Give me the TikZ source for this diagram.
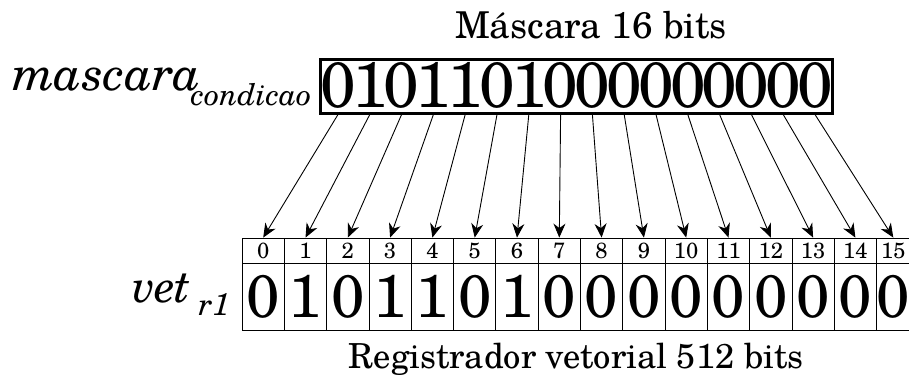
\documentclass[tikz,border=0pt]{standalone}
\usepackage{fontspec}
\setmainfont{TeX Gyre Schola}
\usepackage{tikz}
\usetikzlibrary{arrows.meta}

\begin{document}
\begin{tikzpicture}[x=1pt,y=-1pt,
  maskbox/.style={draw, line width=3pt, minimum width=512pt, minimum height=54pt, inner sep=0pt},
  maskbit/.style={inner sep=0pt, font=\fontsize{64}{64}\selectfont},
  idxcell/.style={draw, line width=0.8pt, minimum width=42.3pt, minimum height=25pt,
       inner sep=0pt, font=\fontsize{22}{22}\selectfont},
  bitcell/.style={draw, line width=0.8pt, minimum width=42.3pt, minimum height=67pt,
       inner sep=0pt, font=\fontsize{60}{60}\selectfont},
  caption/.style={inner sep=0pt, font=\fontsize{34.5}{34.5}\selectfont},
  varname/.style={inner sep=0pt, font=\fontsize{48}{48}\selectfont\itshape},
  bitarrow/.style={line width=0.9pt, -{Stealth[length=14pt,width=12pt,inset=4.5pt]}}]
\clip (0,0) rectangle (909,376);

% titles
\draw (591,38) node[caption, anchor=base, font=\fontsize{37}{37}\selectfont] (title) {Máscara 16 bits};
\draw (576,368) node[caption, anchor=base] (reglabel) {Registrador vetorial 512 bits};

% mask word
\draw (12,90) node[varname, anchor=base west] (maskname)
  {mascara\kern-10pt\raisebox{-15pt}{\fontsize{30}{30}\selectfont condicao}};
\draw (576,86) node[maskbox] (mask) {};
\draw (338.0,85) node[maskbit] (m0) {0};
\draw (369.8,85) node[maskbit] (m1) {1};
\draw (401.6,85) node[maskbit] (m2) {0};
\draw (433.4,85) node[maskbit] (m3) {1};
\draw (465.2,85) node[maskbit] (m4) {1};
\draw (497.0,85) node[maskbit] (m5) {0};
\draw (528.8,85) node[maskbit] (m6) {1};
\draw (560.6,85) node[maskbit] (m7) {0};
\draw (592.4,85) node[maskbit] (m8) {0};
\draw (624.2,85) node[maskbit] (m9) {0};
\draw (656.0,85) node[maskbit] (m10) {0};
\draw (687.8,85) node[maskbit] (m11) {0};
\draw (719.6,85) node[maskbit] (m12) {0};
\draw (751.4,85) node[maskbit] (m13) {0};
\draw (783.2,85) node[maskbit] (m14) {0};
\draw (815.0,85) node[maskbit] (m15) {0};

% vector register
\draw (132,302) node[varname, anchor=base west, font=\fontsize{46}{46}\selectfont\itshape] (vetname)
  {vet\,\raisebox{-13pt}{\fontsize{31}{31}\selectfont r1}};

\draw (263.2,250.5) node[idxcell] (i0) {0};
\draw (305.5,250.5) node[idxcell] (i1) {1};
\draw (347.8,250.5) node[idxcell] (i2) {2};
\draw (390.1,250.5) node[idxcell] (i3) {3};
\draw (432.4,250.5) node[idxcell] (i4) {4};
\draw (474.7,250.5) node[idxcell] (i5) {5};
\draw (517.0,250.5) node[idxcell] (i6) {6};
\draw (559.3,250.5) node[idxcell] (i7) {7};
\draw (601.6,250.5) node[idxcell] (i8) {8};
\draw (643.9,250.5) node[idxcell] (i9) {9};
\draw (686.2,250.5) node[idxcell] (i10) {10};
\draw (728.5,250.5) node[idxcell] (i11) {11};
\draw (770.8,250.5) node[idxcell] (i12) {12};
\draw (813.1,250.5) node[idxcell] (i13) {13};
\draw (855.4,250.5) node[idxcell] (i14) {14};
\draw (893.3,250.5) node[idxcell, minimum width=34pt] (i15) {15};

\draw (263.2,296.5) node[bitcell] (b0) {0};
\draw (305.5,296.5) node[bitcell] (b1) {1};
\draw (347.8,296.5) node[bitcell] (b2) {0};
\draw (390.1,296.5) node[bitcell] (b3) {1};
\draw (432.4,296.5) node[bitcell] (b4) {1};
\draw (474.7,296.5) node[bitcell] (b5) {0};
\draw (517.0,296.5) node[bitcell] (b6) {1};
\draw (559.3,296.5) node[bitcell] (b7) {0};
\draw (601.6,296.5) node[bitcell] (b8) {0};
\draw (643.9,296.5) node[bitcell] (b9) {0};
\draw (686.2,296.5) node[bitcell] (b10) {0};
\draw (728.5,296.5) node[bitcell] (b11) {0};
\draw (770.8,296.5) node[bitcell] (b12) {0};
\draw (813.1,296.5) node[bitcell] (b13) {0};
\draw (855.4,296.5) node[bitcell] (b14) {0};
\draw (893.3,296.5) node[bitcell, minimum width=34pt] (b15) {0};

% mask bit -> register lane
\draw[bitarrow] (m0 |- mask.south) -- (i0.north);
\draw[bitarrow] (m1 |- mask.south) -- (i1.north);
\draw[bitarrow] (m2 |- mask.south) -- (i2.north);
\draw[bitarrow] (m3 |- mask.south) -- (i3.north);
\draw[bitarrow] (m4 |- mask.south) -- (i4.north);
\draw[bitarrow] (m5 |- mask.south) -- (i5.north);
\draw[bitarrow] (m6 |- mask.south) -- (i6.north);
\draw[bitarrow] (m7 |- mask.south) -- (i7.north);
\draw[bitarrow] (m8 |- mask.south) -- (i8.north);
\draw[bitarrow] (m9 |- mask.south) -- (i9.north);
\draw[bitarrow] (m10 |- mask.south) -- (i10.north);
\draw[bitarrow] (m11 |- mask.south) -- (i11.north);
\draw[bitarrow] (m12 |- mask.south) -- (i12.north);
\draw[bitarrow] (m13 |- mask.south) -- (i13.north);
\draw[bitarrow] (m14 |- mask.south) -- (i14.north);
\draw[bitarrow] (m15 |- mask.south) -- (i15.north);
\end{tikzpicture}
\end{document}
